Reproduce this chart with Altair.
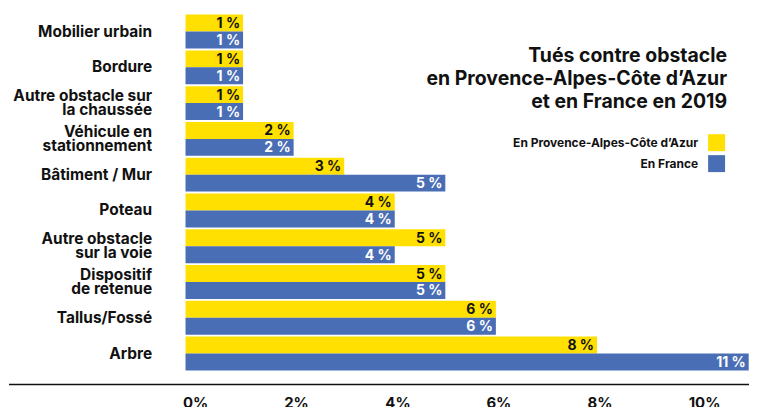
import altair as alt
import pandas as pd

categories = [
    "Mobilier urbain",
    "Bordure",
    "Autre obstacle sur|la chaussée",
    "Véhicule en|stationnement",
    "Bâtiment / Mur",
    "Poteau",
    "Autre obstacle|sur la voie",
    "Dispositif|de retenue",
    "Tallus/Fossé",
    "Arbre",
]
paca = [1, 1, 1, 2, 3, 4, 5, 5, 6, 8]
france = [1, 1, 1, 2, 5, 4, 4, 5, 6, 11]
series_names = ["En Provence-Alpes-Côte d’Azur", "En France"]
colors = ["#FFE000", "#4A6EB5"]
x_ticks = [0, 2, 4, 6, 8, 10]
title_lines = ["Tués contre obstacle", "en Provence-Alpes-Côte d’Azur", "et en France en 2019"]

rows = []
for c, a, b in zip(categories, paca, france):
    rows.append({"category": c, "series": series_names[0], "value": a, "label": f"{a} %"})
    rows.append({"category": c, "series": series_names[1], "value": b, "label": f"{b} %"})
df = pd.DataFrame(rows)

FONT = "Inter"
W, H = 565, 359
TXT = "#111111"
X_MIN, X_MAX = -0.138, 11.006

y_enc = alt.Y(
    "category:N",
    sort=categories,
    scale=alt.Scale(paddingInner=0.053, paddingOuter=0.03),
    axis=alt.Axis(
        title=None, domain=False, ticks=False,
        labelExpr="split(datum.label, '|')",
        labelOffset={"condition": {"test": "indexof(datum.value, '|') >= 0", "value": -7}, "value": 0},
        labelFont=FONT, labelFontSize=15.5, labelFontWeight="bold",
        labelColor=TXT, labelPadding=34, labelLineHeight=14, labelLimit=300,
    ),
)
yoff_enc = alt.YOffset("series:N", sort=series_names, scale=alt.Scale(paddingInner=0, paddingOuter=0))
x_enc = alt.X(
    "value:Q",
    stack=None,
    scale=alt.Scale(domain=[X_MIN, X_MAX], nice=False, zero=False),
    axis=alt.Axis(
        values=x_ticks, labelExpr="datum.value + '%'", title=None, grid=False,
        domain=False, ticks=False, tickSize=0, labelAlign="left", labelOffset=-10,
        labelPadding=24, labelBaseline="top", labelFont=FONT, labelFontSize=15,
        labelFontWeight="bold", labelColor=TXT,
    ),
)

base = alt.Chart(df)
bars = base.mark_bar().encode(
    x=x_enc,
    x2=alt.datum(X_MIN),
    y=y_enc,
    yOffset=yoff_enc,
    color=alt.Color("series:N", scale=alt.Scale(domain=series_names, range=colors), legend=None),
)
labels = base.mark_text(
    align="right", baseline="middle", dx=-3, dy=1, font=FONT, fontSize=14, fontWeight="bold"
).encode(
    x=x_enc,
    y=y_enc,
    yOffset=yoff_enc,
    text="label:N",
    color=alt.condition(alt.datum.series == series_names[1], alt.value("white"), alt.value(TXT)),
)

one = pd.DataFrame({"t": ["\n".join(title_lines)]})
rule = alt.Chart(one).mark_rule(color=TXT, strokeWidth=1.5).encode(
    x=alt.value(-177), x2=alt.value(W), y=alt.value(H + 13)
)
title = alt.Chart(one).mark_text(
    align="right", baseline="alphabetic", lineBreak="\n", lineHeight=23,
    fontSize=19.5, fontWeight="bold", font=FONT, color=TXT,
).encode(x=alt.value(543), y=alt.value(49), text="t:N")

legend_layers = []
for i, (name, col) in enumerate(zip(series_names, colors)):
    ld = pd.DataFrame({"name": [name]})
    legend_layers.append(
        alt.Chart(ld).mark_square(size=289, opacity=1, color=col).encode(
            x=alt.value(532.5), y=alt.value(129.5 + 21 * i)
        )
    )
    legend_layers.append(
        alt.Chart(ld).mark_text(
            align="right", baseline="middle", font=FONT, fontSize=12, fontWeight="bold", color=TXT
        ).encode(x=alt.value(514), y=alt.value(130 + 21 * i), text="name:N")
    )

chart = alt.layer(bars, labels, rule, title, *legend_layers).properties(
    width=W, height=H,
    padding={"left": 0, "top": 5, "right": 0, "bottom": 0},
    background="white",
).configure_view(stroke=None)

chart.save("out.html", embed_options={"renderer": "svg", "actions": False})
